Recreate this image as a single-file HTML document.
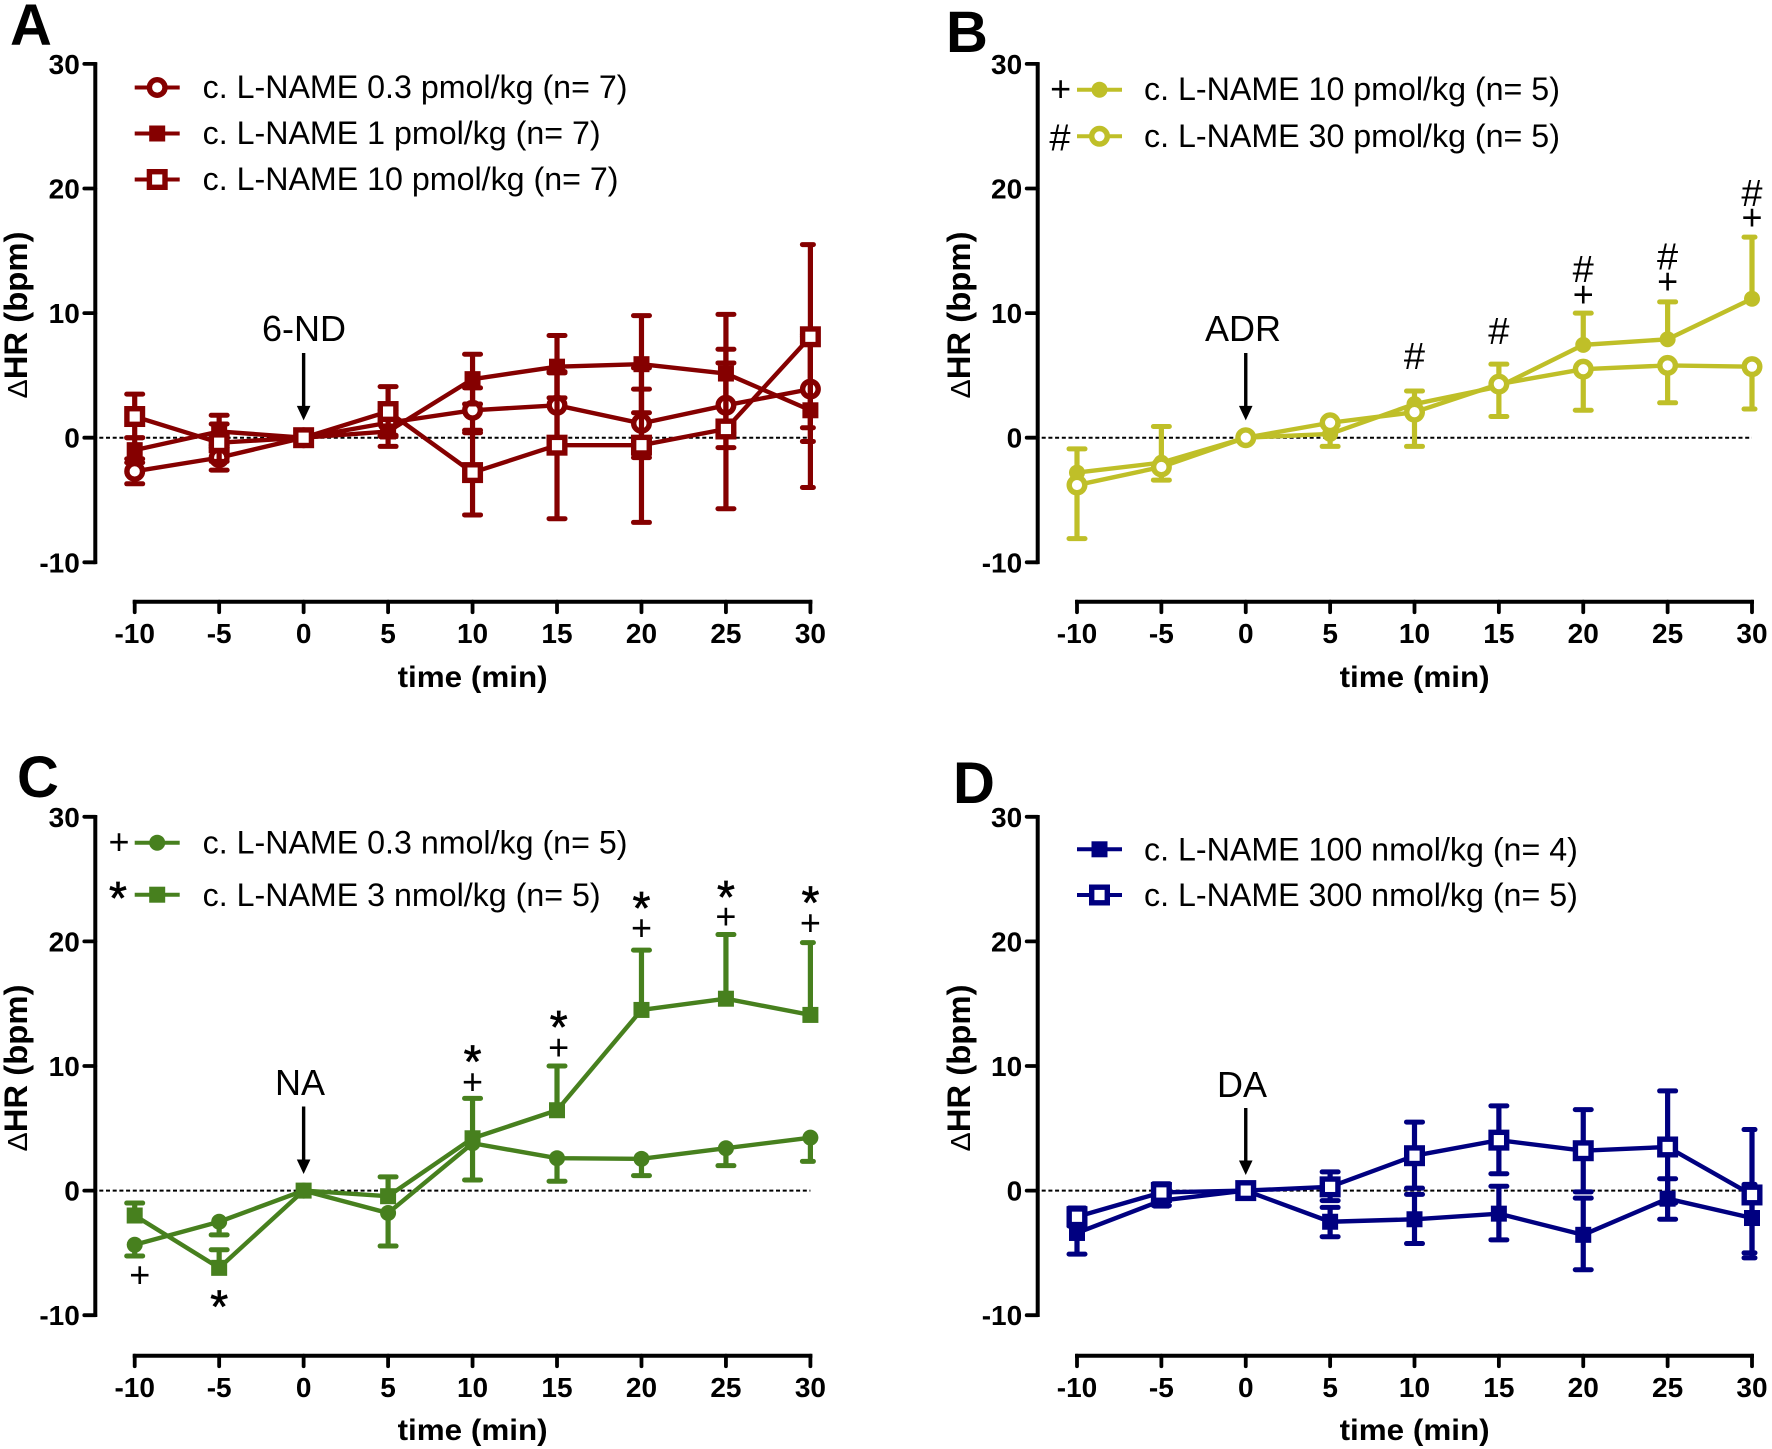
<!DOCTYPE html>
<html lang="en">
<head>
<meta charset="utf-8">
<title>Change in heart rate after c. L-NAME</title>
<style>
html,body{margin:0;padding:0;background:#fff;width:1772px;height:1449px;overflow:hidden}
svg{display:block}
text{font-family:"Liberation Sans",sans-serif;fill:#000}
.letter{font-size:58px;font-weight:bold}
.ytitle{font-size:32px;font-weight:bold}
.delta{font-size:28px;font-weight:normal}
.xtitle{font-size:30px;font-weight:bold}
.tick{font-size:28px;font-weight:bold}
.leg{font-size:32.2px}
.ann{font-size:36px}
.sym{font-size:36px}
.hash{font-size:38px}
.star{font-size:46px;stroke:#000;stroke-width:.7px}
</style>
</head>
<body>
<svg id="chart" width="1772" height="1449" viewBox="0 0 1772 1449" xmlns="http://www.w3.org/2000/svg">
  <rect x="0" y="0" width="1772" height="1449" fill="#fff"/>

  <text class="letter" x="10" y="45">A</text>
  <text class="letter" x="946" y="52">B</text>
  <text class="letter" x="17" y="797">C</text>
  <text class="letter" x="953" y="803">D</text>

  <text class="ytitle" transform="translate(27 315) rotate(-90)" text-anchor="middle" textLength="167" lengthAdjust="spacingAndGlyphs"><tspan class="delta">Δ</tspan>HR (bpm)</text>
  <text class="ytitle" transform="translate(970 315) rotate(-90)" text-anchor="middle" textLength="167" lengthAdjust="spacingAndGlyphs"><tspan class="delta">Δ</tspan>HR (bpm)</text>
  <text class="ytitle" transform="translate(27 1068) rotate(-90)" text-anchor="middle" textLength="167" lengthAdjust="spacingAndGlyphs"><tspan class="delta">Δ</tspan>HR (bpm)</text>
  <text class="ytitle" transform="translate(970 1068) rotate(-90)" text-anchor="middle" textLength="167" lengthAdjust="spacingAndGlyphs"><tspan class="delta">Δ</tspan>HR (bpm)</text>

  <text class="xtitle" x="472.6" y="687" text-anchor="middle" textLength="150" lengthAdjust="spacingAndGlyphs">time (min)</text>
  <text class="xtitle" x="1414.6" y="687" text-anchor="middle" textLength="150" lengthAdjust="spacingAndGlyphs">time (min)</text>
  <text class="xtitle" x="472.6" y="1440" text-anchor="middle" textLength="150" lengthAdjust="spacingAndGlyphs">time (min)</text>
  <text class="xtitle" x="1414.6" y="1440" text-anchor="middle" textLength="150" lengthAdjust="spacingAndGlyphs">time (min)</text>

  <text class="ann" x="304" y="341" text-anchor="middle">6-ND</text>
  <text class="ann" x="1243" y="341" text-anchor="middle">ADR</text>
  <text class="ann" x="300" y="1095" text-anchor="middle">NA</text>
  <text class="ann" x="1242" y="1097" text-anchor="middle">DA</text>

  <text class="leg" x="202.6" y="98">c. L-NAME 0.3 pmol/kg (n= 7)</text>
  <text class="leg" x="202.6" y="144">c. L-NAME 1 pmol/kg (n= 7)</text>
  <text class="leg" x="202.6" y="190">c. L-NAME 10 pmol/kg (n= 7)</text>
  <text class="leg" x="1144" y="100">c. L-NAME 10 pmol/kg (n= 5)</text>
  <text class="leg" x="1144" y="147">c. L-NAME 30 pmol/kg (n= 5)</text>
  <text class="leg" x="202.6" y="853.5">c. L-NAME 0.3 nmol/kg (n= 5)</text>
  <text class="leg" x="202.6" y="906">c. L-NAME 3 nmol/kg (n= 5)</text>
  <text class="leg" x="1144" y="860.5">c. L-NAME 100 nmol/kg (n= 4)</text>
  <text class="leg" x="1144" y="906">c. L-NAME 300 nmol/kg (n= 5)</text>

  <text class="sym" x="1060.7" y="101" text-anchor="middle">+</text>
  <text class="hash" x="1060" y="150.6" text-anchor="middle">#</text>
  <text class="sym" x="119" y="854" text-anchor="middle">+</text>
  <text class="star" x="118" y="914" text-anchor="middle">*</text>
</svg>

<script>
const categories = [-10, -5, 0, 5, 10, 15, 20, 25, 30];
const yTickLabels = [-10, 0, 10, 20, 30];

const aLowMean = [-2.7, -1.6, 0, 1.2, 2.2, 2.6, 1.15, 2.6, 3.9];
const aLowUpper = [-1.7, -0.6, 0, 2.2, 4, 5.2, 3.9, 6, 8.1];
const aLowLower = [-3.7, -2.6, 0, 0.2, 0.4, 0, -1.6, -0.8, -0.3];
const aMidMean = [-1, 0.5, 0, 0.5, 4.7, 5.7, 5.9, 5.15, 2.2];
const aMidUpper = [0, 1.8, 0, 1.7, 6.7, 8.2, 9.8, 9.9, 8.3];
const aMidLower = [-2, -0.8, 0, -0.7, 2.7, 3.2, 2, 0.4, -4];
const aHighMean = [1.7, -0.4, 0, 2.1, -2.8, -0.6, -0.6, 0.7, 8.1];
const aHighUpper = [3.5, 1.1, 0, 4.1, 0.6, 5.3, 5.6, 7.1, 15.5];
const aHighLower = [0, -1.9, 0, 0.1, -6.2, -6.5, -6.8, -5.7, 0.8];

const bLowMean = [-2.8, -2, 0, 0.3, 2.7, 4.1, 7.45, 7.9, 11.15];
const bLowUpper = [-0.9, 0.9, 0, 1, 3.75, 5.9, 10, 10.9, 16.1];
const bHighMean = [-3.8, -2.35, 0, 1.2, 2.05, 4.3, 5.5, 5.8, 5.7];
const bHighLower = [-8.1, -3.4, 0, -0.7, -0.7, 1.7, 2.2, 2.8, 2.3];

const cLowMean = [-4.35, -2.5, 0, -1.8, 3.8, 2.6, 2.55, 3.4, 4.25];
const cLowLower = [-5.25, -3.55, 0, -4.45, 0.85, 0.75, 1.2, 2, 2.35];
const cHighMean = [-2, -6.2, 0, -0.45, 4.2, 6.45, 14.5, 15.4, 14.1];
const cHighUpper = [-1, -4.75, 0, 1.1, 7.4, 10, 19.3, 20.55, 19.9];

const dLowMean = [-3.4, -0.8, 0, -2.5, -2.3, -1.85, -3.55, -0.65, -2.2];
const dLowUpper = [-1.7, 0.1, 0, -1.35, -0.3, 0.35, -0.6, 0.95, 0.5];
const dLowLower = [-5.1, -1.2, 0, -3.7, -4.25, -3.95, -6.35, -2.3, -5.4];
const dHighMean = [-2.1, -0.15, 0, 0.3, 2.8, 4.05, 3.2, 3.5, -0.35];
const dHighUpper = [-1.4, 0.55, 0, 1.5, 5.5, 6.8, 6.5, 8, 4.9];
const dHighLower = [-2.85, -0.85, 0, -0.8, 0.2, 1.35, -0.1, -1, -5];

const bMarkTimes = [10, 15, 20, 20, 25, 25, 30, 30];
const bMarkValues = [6.6, 8.6, 13.55, 11.5, 14.55, 12.55, 19.65, 17.7];
const bMarkSymbols = ['#', '#', '#', '+', '#', '+', '#', '+'];

const cMarkTimes = [-9.7, -5, 10, 10, 15.1, 15.1, 20, 20, 25, 25, 30, 30];
const cMarkValues = [-6.75, -9, 10.7, 8.75, 13.45, 11.5, 23, 21.1, 23.9, 22, 23.45, 21.5];
const cMarkSymbols = ['+', '*', '*', '+', '*', '+', '*', '+', '*', '+', '*', '+'];

const arrowTime = 0;
const COLORS = {a: '#850000', b: '#bfbf28', c: '#47801e', d: '#000080'};

const svg = document.getElementById('chart');
const NS = 'http://www.w3.org/2000/svg';

function make(tag, attrs, name, parent) {
  const el = document.createElementNS(NS, tag);
  for (const k in attrs) el.setAttribute(k, attrs[k]);
  
  
  (parent || svg).appendChild(el);
  return el;
}

function xScale(p, t) {
  return p.x0 + (t - categories[0]) / (categories[categories.length - 1] - categories[0]) * (p.x1 - p.x0);
}
function yScale(p, v) {
  return p.yZero - v * 12.46;
}

function drawAxes(p) {
  const g = make('g', {}, 'axes-' + p.id);
  const top = yScale(p, 30), bottom = yScale(p, -10);
  make('line', {x1: p.axisX, x2: p.axisX, y1: top - 1.8, y2: bottom + 1.8, stroke: '#000', 'stroke-width': 4}, 'y-axis-line', g);
  yTickLabels.forEach(function (v) {
    const y = yScale(p, v);
    make('line', {x1: p.axisX - 11, x2: p.axisX, y1: y, y2: y, stroke: '#000', 'stroke-width': 3.8, 'stroke-linecap': 'round'}, 'y-tick', g);
    const t = make('text', {x: p.axisX - 15.5, y: y + 10, 'text-anchor': 'end', class: 'tick'}, 'y-tick-label', g);
    t.textContent = String(v);
  });
  make('line', {x1: p.x0 - 2, x2: p.x1 + 2, y1: p.axisY, y2: p.axisY, stroke: '#000', 'stroke-width': 4}, 'x-axis-line', g);
  categories.forEach(function (c) {
    const x = xScale(p, c);
    make('line', {x1: x, x2: x, y1: p.axisY, y2: p.axisY + 10.5, stroke: '#000', 'stroke-width': 3.8, 'stroke-linecap': 'round'}, 'x-tick', g);
    const t = make('text', {x: x, y: p.axisY + 41.5, 'text-anchor': 'middle', class: 'tick'}, 'x-tick-label', g);
    t.textContent = String(c);
  });
  make('line', {x1: p.axisX + 4, x2: p.x1, y1: p.yZero, y2: p.yZero, stroke: '#000', 'stroke-width': 2, 'stroke-dasharray': '4 2.7'}, 'zero-reference-line', g);
}

function drawArrow(p) {
  const x = xScale(p, arrowTime);
  make('line', {x1: x, x2: x, y1: p.arrowTop, y2: p.arrowTip - 10, stroke: '#000', 'stroke-width': 3.4}, 'drug-arrow-shaft-' + p.id);
  make('path', {d: 'M' + (x - 6.8) + ' ' + (p.arrowTip - 14.5) + 'L' + (x + 6.8) + ' ' + (p.arrowTip - 14.5) + 'L' + x + ' ' + p.arrowTip + 'Z', fill: '#000'}, 'drug-arrow-head-' + p.id);
}

function drawMarker(shape, x, y, color, parent, name) {
  if (shape === 'open-circle') {
    make('circle', {cx: x, cy: y, r: 7.8, fill: '#fff', stroke: color, 'stroke-width': 5.4}, name, parent);
  } else if (shape === 'filled-circle') {
    make('circle', {cx: x, cy: y, r: 8, fill: color}, name, parent);
  } else if (shape === 'open-square') {
    make('rect', {x: x - 7.8, y: y - 7.8, width: 15.6, height: 15.6, fill: '#fff', stroke: color, 'stroke-width': 5.4}, name, parent);
  } else {
    make('rect', {x: x - 8, y: y - 8, width: 16, height: 16, fill: color}, name, parent);
  }
}

function drawSeries(p, s) {
  const g = make('g', {}, 'series-' + s.id);
  const color = COLORS[p.id];
  const last = categories.length - 1;
  function bar(bound, kind) {
    if (!bound) return;
    bound.forEach(function (b, i) {
      if (categories[i] === arrowTime) return;
      const x = xScale(p, categories[i]);
      const y = yScale(p, b);
      make('line', {x1: x, x2: x, y1: yScale(p, s.mean[i]), y2: y, stroke: color, 'stroke-width': 5.2}, 'error-bar-' + kind, g);
      make('line', {x1: x - 8, x2: i === last ? x + 3 : x + 8, y1: y, y2: y, stroke: color, 'stroke-width': 5, 'stroke-linecap': 'round'}, 'error-cap-' + kind, g);
    });
  }
  bar(s.upper, 'upper');
  bar(s.lower, 'lower');
  const pts = s.mean.map(function (m, i) { return xScale(p, categories[i]) + ',' + yScale(p, m); }).join(' ');
  make('polyline', {points: pts, fill: 'none', stroke: color, 'stroke-width': 4.4, 'stroke-linejoin': 'round'}, 'series-line', g);
  s.mean.forEach(function (m, i) {
    drawMarker(s.shape, xScale(p, categories[i]), yScale(p, m), color, g, 'data-point');
  });
}

function drawLegend(p, s, y) {
  const color = COLORS[p.id];
  const g = make('g', {}, 'legend-key-' + s.id);
  make('line', {x1: p.x0, x2: p.x0 + 45, y1: y, y2: y, stroke: color, 'stroke-width': 4}, 'legend-line', g);
  drawMarker(s.shape, p.x0 + 22.5, y, color, g, 'legend-marker');
}

function drawMarks(p, times, values, symbols) {
  times.forEach(function (t, i) {
    const sym = symbols[i];
    const cls = sym === '*' ? 'star' : (sym === '#' ? 'hash' : 'sym');
    const offset = sym === '*' ? 20 : (sym === '#' ? 13.3 : 12.2);
    const el = make('text', {x: xScale(p, t), y: yScale(p, values[i]) + offset, 'text-anchor': 'middle', class: cls}, 'significance-mark', svg);
    el.textContent = sym;
  });
}

const panelA = {id: 'a', x0: 134.7, x1: 810.4, axisX: 95.3, yZero: 437.7, axisY: 601.7, arrowTop: 353, arrowTip: 420.4};
const panelB = {id: 'b', x0: 1077, x1: 1752, axisX: 1037.7, yZero: 437.7, axisY: 601.7, arrowTop: 353, arrowTip: 420.4};
const panelC = {id: 'c', x0: 134.7, x1: 810.4, axisX: 95.3, yZero: 1190.6, axisY: 1355.7, arrowTop: 1106.5, arrowTip: 1174};
const panelD = {id: 'd', x0: 1077, x1: 1752, axisX: 1037.7, yZero: 1190.6, axisY: 1355.7, arrowTop: 1108, arrowTip: 1175};

const seriesA = [
  {id: 'a-0-3-pmol', shape: 'open-circle', mean: aLowMean, upper: aLowUpper, lower: aLowLower},
  {id: 'a-1-pmol', shape: 'filled-square', mean: aMidMean, upper: aMidUpper, lower: aMidLower},
  {id: 'a-10-pmol', shape: 'open-square', mean: aHighMean, upper: aHighUpper, lower: aHighLower}
];
const seriesB = [
  {id: 'b-10-pmol', shape: 'filled-circle', mean: bLowMean, upper: bLowUpper},
  {id: 'b-30-pmol', shape: 'open-circle', mean: bHighMean, lower: bHighLower}
];
const seriesC = [
  {id: 'c-0-3-nmol', shape: 'filled-circle', mean: cLowMean, lower: cLowLower},
  {id: 'c-3-nmol', shape: 'filled-square', mean: cHighMean, upper: cHighUpper}
];
const seriesD = [
  {id: 'd-100-nmol', shape: 'filled-square', mean: dLowMean, upper: dLowUpper, lower: dLowLower},
  {id: 'd-300-nmol', shape: 'open-square', mean: dHighMean, upper: dHighUpper, lower: dHighLower}
];

[panelA, panelB, panelC, panelD].forEach(function (p) { drawAxes(p); drawArrow(p); });
seriesA.forEach(function (s) { drawSeries(panelA, s); });
seriesB.forEach(function (s) { drawSeries(panelB, s); });
seriesC.forEach(function (s) { drawSeries(panelC, s); });
seriesD.forEach(function (s) { drawSeries(panelD, s); });

drawLegend(panelA, seriesA[0], 87.5);
drawLegend(panelA, seriesA[1], 133.5);
drawLegend(panelA, seriesA[2], 179.5);
drawLegend(panelB, seriesB[0], 89.7);
drawLegend(panelB, seriesB[1], 136.3);
drawLegend(panelC, seriesC[0], 842.7);
drawLegend(panelC, seriesC[1], 894.7);
drawLegend(panelD, seriesD[0], 849.3);
drawLegend(panelD, seriesD[1], 895);

drawMarks(panelB, bMarkTimes, bMarkValues, bMarkSymbols);
drawMarks(panelC, cMarkTimes, cMarkValues, cMarkSymbols);
</script>
</body>
</html>
